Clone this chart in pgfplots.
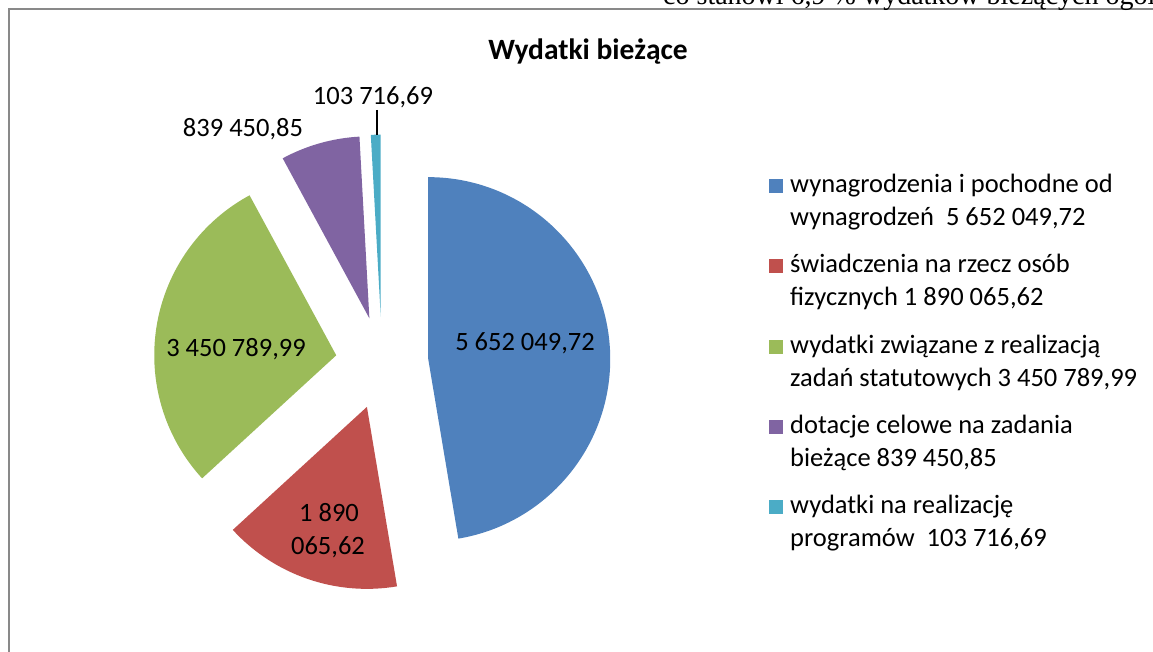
\documentclass[border=0pt]{standalone}
\usepackage{fontspec}
\setmainfont{Carlito}
\newfontfamily\timesfont{Liberation Serif}
\usepackage{pgfplots}
\pgfplotsset{compat=1.18}
\usepgflibrary{fpu}
\definecolor{pblue}{HTML}{4F81BD}
\definecolor{pred}{HTML}{C0504D}
\definecolor{pgreen}{HTML}{9BBB59}
\definecolor{ppurple}{HTML}{8064A2}
\definecolor{pcyan}{HTML}{4BACC6}
\definecolor{frame}{HTML}{898989}
% data values
\def\vA{5652049.72}
\def\vB{1890065.62}
\def\vC{3450789.99}
\def\vD{839450.85}
\def\vE{103716.69}
% geometry (centre, radius, explosion)
\def\cx{382}\def\cy{289}\def\rr{182}\def\dd{46.4}
\pgfkeys{/pgf/fpu=true,/pgf/fpu/output format=fixed}
\pgfmathsetmacro\T{\vA+\vB+\vC+\vD+\vE}
\pgfmathsetmacro\sA{90}
\pgfmathsetmacro\eA{\sA-360*\vA/\T}
\pgfmathsetmacro\eB{\eA-360*\vB/\T}
\pgfmathsetmacro\eC{\eB-360*\vC/\T}
\pgfmathsetmacro\eD{\eC-360*\vD/\T}
\pgfmathsetmacro\eE{\eD-360*\vE/\T}
\pgfmathsetmacro\xA{\cx+\dd*cos((\sA+\eA)/2)}\pgfmathsetmacro\yA{\cy+\dd*sin((\sA+\eA)/2)}
\pgfmathsetmacro\xB{\cx+\dd*cos((\eA+\eB)/2)}\pgfmathsetmacro\yB{\cy+\dd*sin((\eA+\eB)/2)}
\pgfmathsetmacro\xC{\cx+\dd*cos((\eB+\eC)/2)}\pgfmathsetmacro\yC{\cy+\dd*sin((\eB+\eC)/2)}
\pgfmathsetmacro\xD{\cx+\dd*cos((\eC+\eD)/2)}\pgfmathsetmacro\yD{\cy+\dd*sin((\eC+\eD)/2)}
\pgfmathsetmacro\xE{\cx+\dd*cos((\eD+\eE)/2)}\pgfmathsetmacro\yE{\cy+\dd*sin((\eD+\eE)/2)}
\pgfkeys{/pgf/fpu=false}
\begin{document}
\begin{tikzpicture}
\useasboundingbox (0,0) rectangle (1153bp,652bp);
\begin{axis}[at={(0,0)}, anchor=origin, scale only axis, width=1153bp, height=652bp,
  xmin=0, xmax=1153, ymin=0, ymax=652, hide axis, clip=false]
% frame and page text
\draw[frame, line width=2bp] (axis cs:9,0) -- (axis cs:9,643) -- (axis cs:1160,643);
\node[anchor=base west, inner sep=0pt, font=\timesfont\fontsize{28bp}{30bp}\selectfont] at (axis cs:663,647) {co stanowi 6,9 \% wydatków bieżących ogół};
% wedges
\fill[pblue]   (axis cs:\xA,\yA) -- ++(\sA:\rr bp) arc[start angle=\sA, end angle=\eA, radius=\rr bp] -- cycle;
\fill[pred]    (axis cs:\xB,\yB) -- ++(\eA:\rr bp) arc[start angle=\eA, end angle=\eB, radius=\rr bp] -- cycle;
\fill[pgreen]  (axis cs:\xC,\yC) -- ++(\eB:\rr bp) arc[start angle=\eB, end angle=\eC, radius=\rr bp] -- cycle;
\fill[ppurple] (axis cs:\xD,\yD) -- ++(\eC:\rr bp) arc[start angle=\eC, end angle=\eD, radius=\rr bp] -- cycle;
\fill[pcyan]   (axis cs:\xE,\yE) -- ++(\eD:\rr bp) arc[start angle=\eD, end angle=\eE, radius=\rr bp] -- cycle;
% title
\node[anchor=base, inner sep=0pt, font=\bfseries\fontsize{29.5bp}{34bp}\selectfont] at (axis cs:588,592) {Wydatki bieżące};
% data labels
\begin{scope}[every node/.style={anchor=base, inner sep=0pt, font=\fontsize{26.5bp}{33bp}\selectfont}]
\node at (axis cs:525,301) {5 652 049,72};
\node at (axis cs:329,130) {1 890};
\node at (axis cs:328,97) {065,62};
\node at (axis cs:236,295) {3 450 789,99};
\node at (axis cs:243,515) {839 450,85};
\node at (axis cs:373,547) {103 716,69};
\end{scope}
\draw[black, line width=1.3bp] (axis cs:377,542) -- (axis cs:377,517);
% legend
\begin{scope}[every node/.style={anchor=base west, inner sep=0pt, font=\fontsize{26.5bp}{33bp}\selectfont}]
\fill[pblue]   (axis cs:769,459) rectangle (axis cs:783,473);
\node at (axis cs:790,459) {wynagrodzenia i pochodne od};
\node at (axis cs:790,426) {wynagrodzeń\ \ 5 652 049,72};
\fill[pred]    (axis cs:769,379) rectangle (axis cs:783,393);
\node at (axis cs:790,379) {świadczenia na rzecz osób};
\node at (axis cs:790,346) {fizycznych 1 890 065,62};
\fill[pgreen]  (axis cs:769,298) rectangle (axis cs:783,312);
\node at (axis cs:790,298) {wydatki związane z realizacją};
\node at (axis cs:790,265) {zadań statutowych 3 450 789,99};
\fill[ppurple] (axis cs:769,218) rectangle (axis cs:783,232);
\node at (axis cs:790,218) {dotacje celowe na zadania};
\node at (axis cs:790,185) {bieżące 839 450,85};
\fill[pcyan]   (axis cs:769,138) rectangle (axis cs:783,152);
\node at (axis cs:790,138) {wydatki na realizację};
\node at (axis cs:790,105) {programów\ \ 103 716,69};
\end{scope}
\end{axis}
\end{tikzpicture}
\end{document}
